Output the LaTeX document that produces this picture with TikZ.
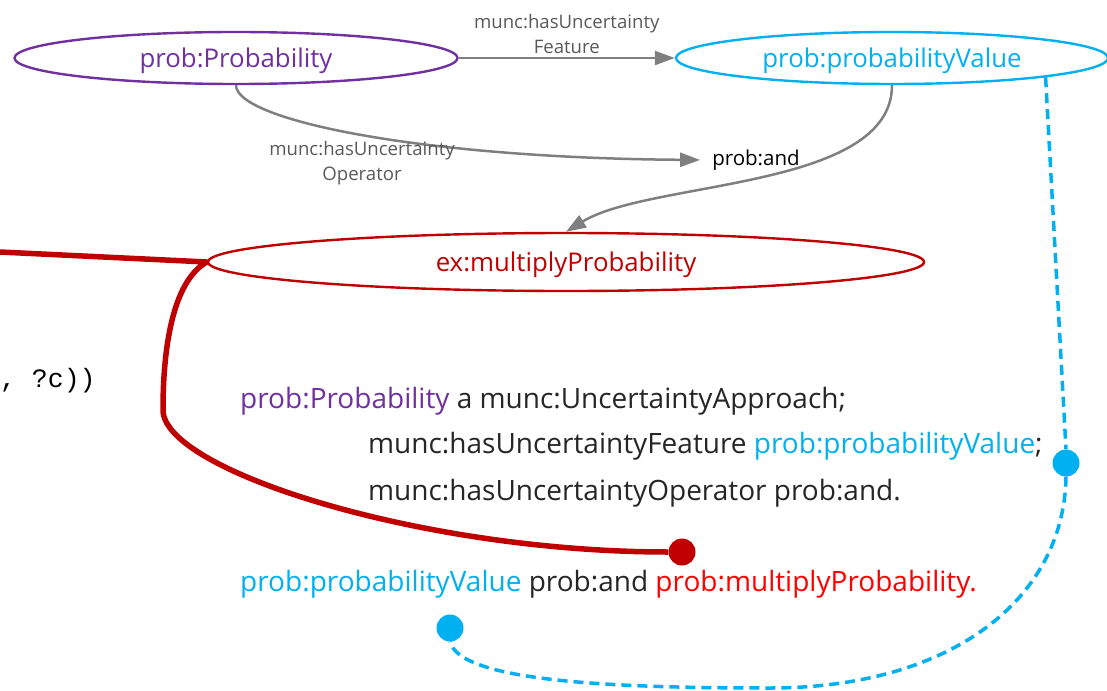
\documentclass[tikz,border=0pt]{standalone}
\usepackage{fontspec}
\setmainfont{Open Sans}
\setmonofont{Liberation Mono}
\usetikzlibrary{shapes.geometric,arrows.meta}
\definecolor{probpurple}{HTML}{7030A0}
\definecolor{probcyan}{HTML}{00B0F0}
\definecolor{exred}{HTML}{C00000}
\definecolor{txtred}{HTML}{FF0000}
\definecolor{linegray}{HTML}{7F7F7F}
\definecolor{lblgray}{HTML}{595959}
\definecolor{txtdark}{HTML}{262626}

\begin{document}
\begin{tikzpicture}[x=1pt,y=-1pt,
    concept/.style={ellipse,draw,line width=2.4pt,inner sep=0pt,text depth=0pt,font=\fontsize{25.8}{30}\selectfont},
    rel/.style={draw=linegray,line width=2.5pt,-{Triangle[length=20pt,width=14pt]}},
    rellabel/.style={text=lblgray,align=center,font=\fontsize{18.6}{25}\selectfont},
    stmt/.style={anchor=base west,text=txtdark,inner sep=0pt,font=\fontsize{28}{32}\selectfont},
    dot/.style={circle,minimum size=27pt,inner sep=0pt}]
        \useasboundingbox (0,0) rectangle (1107,690);
        % concepts
        \node[concept,draw=probpurple,text=probpurple,minimum width=443pt,minimum height=52pt] (pp) at (236,58) {prob:Probability};
        \node[concept,draw=probcyan,text=probcyan,minimum width=432pt,minimum height=52pt] (pv) at (892,58) {prob:probabilityValue};
        \node[concept,draw=exred,text=exred,minimum width=716pt,minimum height=58pt] (mp) at (566,262) {ex:multiplyProbability};
        \node[font=\fontsize{20.5}{24}\selectfont,inner sep=2pt] (and) at (756,160) {prob:and};
        % relations
        \draw[rel] (pp.east)--(pv.west) node[rellabel,midway,above=0pt] (lfeat) {munc:hasUncertainty\\Feature};
        \draw[rel,shorten >=10pt] (pp.south) .. controls (236,120) and (420,158) .. (and.west);
        \node[rellabel] (lop) at (362,163) {munc:hasUncertainty\\Operator};
        \draw[rel] (pv.south) .. controls (892,190) and (650,180) .. (mp.north);
        % text
        \node[anchor=base west,inner sep=0pt,font=\ttfamily\fontsize{26.5}{30}\selectfont] (code) at (0,387) {, ?c))};
        \node[stmt] (s1) at (240,408) {\textcolor{probpurple}{prob:Probability} a munc:UncertaintyApproach;};
        \node[stmt] (s2) at (368,453) {munc:hasUncertaintyFeature \textcolor{probcyan}{prob:probabilityValue};};
        \node[stmt] (s3) at (368,500) {munc:hasUncertaintyOperator prob:and.};
        \node[stmt] (s4) at (240,591) {\textcolor{probcyan}{prob:probabilityValue} prob:and \textcolor{txtred}{prob:multiplyProbability.}};
        % links
        \node[dot,fill=exred] (rd) at (682,552) {};
        \node[dot,fill=probcyan] (cd1) at (1066,463) {};
        \node[dot,fill=probcyan] (cd2) at (450,628) {};
        \coordinate (redin) at (0,252);
        \draw[exred,line width=5.5pt,line join=round] (redin)--(mp.west) .. controls (175,280) and (163,340) .. (163,410) .. controls (163,470) and (420,552) .. (rd.west);
        \draw[probcyan,line width=3.5pt,dash pattern=on 10pt off 6pt] (pv.south east)--(cd1.north);
        \draw[probcyan,line width=3.5pt,dash pattern=on 10pt off 6pt] (cd1.south) .. controls (1064,600) and (950,688) .. (770,688) .. controls (600,688) and (460,680) .. (cd2.south);
      \end{tikzpicture}
\end{document}
